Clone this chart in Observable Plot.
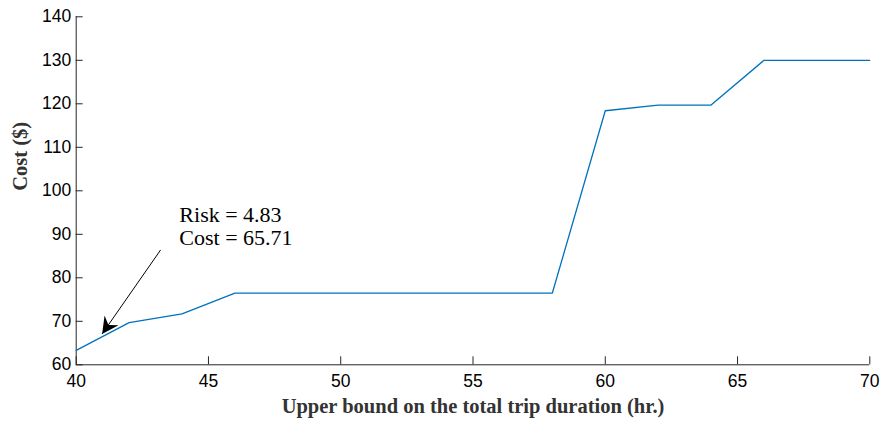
<!DOCTYPE html>
<html><head><meta charset="utf-8">
<script src="https://cdn.jsdelivr.net/npm/d3@7"></script>
<script src="https://cdn.jsdelivr.net/npm/@observablehq/plot@0.6"></script>
<style>body{margin:0;background:#fff}</style>
</head><body><div id="chart"></div>
<script>
const durations = [40,42,44,46,48,50,52,54,56,58,60,62,64,66,68,70];
const costs = [63.3,69.7,71.7,76.5,76.5,76.5,76.5,76.5,76.5,76.5,118.4,119.7,119.7,130,130,130];
const xTicks = [40,45,50,55,60,65,70];
const yTicks = [60,70,80,90,100,110,120,130,140];
const xDomain = [40,70];
const yDomain = [60,140];
const annotationLines = ["Risk = 4.83","Cost = 65.71"];
const annotationX = [43.9, 43.9];
const annotationY = [92.9, 87.6];
const arrowFrom = [43.19, 86.4];
const arrowTo = [40.98, 67.1];
const xLabel = "Upper bound on the total trip duration (hr.)";
const yLabel = "Cost ($)";

const data = durations.map((d, i) => ({duration: d, cost: costs[i]}));
const arrows = [{x1: arrowFrom[0], y1: arrowFrom[1], x2: arrowTo[0], y2: arrowTo[1]}];
const axisColor = "#262626";
const sans = "Liberation Sans, Arial, sans-serif";
const serif = "Liberation Serif, Times New Roman, serif";

const chart = Plot.plot({
  width: 884,
  height: 426,
  marginLeft: 75.7,
  marginRight: 14.7,
  marginTop: 16.3,
  marginBottom: 61.7,
  style: {background: "#fff", overflow: "visible"},
  x: {domain: xDomain, label: null},
  y: {domain: yDomain, label: null},
  marks: [
    Plot.ruleX([xDomain[0]], {stroke: axisColor, strokeWidth: 1}),
    Plot.ruleY([yDomain[0]], {stroke: axisColor, strokeWidth: 1}),
    Plot.axisY(yTicks, {tickSize: 7, dx: 7, text: null, label: null, stroke: axisColor}),
    Plot.axisX(xTicks, {tickSize: 8, dy: -8, text: null, label: null, stroke: axisColor}),
    Plot.axisY(yTicks, {tickSize: 0, tickPadding: 5, label: null, fontSize: 17.5, fontFamily: sans, fill: "#000"}),
    Plot.axisX(xTicks, {tickSize: 0, tickPadding: 10, label: null, fontSize: 17.5, fontFamily: sans, fill: "#000"}),
    Plot.line(data, {x: "duration", y: "cost", stroke: "#0072BD", strokeWidth: 1.3}),
    Plot.link(arrows, {x1: "x1", y1: "y1", x2: "x2", y2: "y2", stroke: "#000", strokeWidth: 1}),
    Plot.text(annotationLines, {x: (d, i) => annotationX[i], y: (d, i) => annotationY[i], text: d => d,
      textAnchor: "start", lineAnchor: "bottom", fontFamily: serif, fontSize: 22, fill: "#000"}),
    Plot.text([xLabel], {frameAnchor: "bottom", dy: 47.7, lineAnchor: "bottom", fontFamily: serif,
      fontWeight: "bold", fontSize: 20.5, fill: "#333"}),
    Plot.text([yLabel], {frameAnchor: "left", rotate: -90, dx: -56, lineAnchor: "middle", fontFamily: serif,
      fontWeight: "bold", fontSize: 20.5, fill: "#333"})
  ]
});

// filled MATLAB-style arrowhead
const ns = "http://www.w3.org/2000/svg";
const defs = document.createElementNS(ns, "defs");
const marker = document.createElementNS(ns, "marker");
marker.setAttribute("id", "mhead");
marker.setAttribute("markerUnits", "userSpaceOnUse");
marker.setAttribute("viewBox", "-20 -10 22 20");
marker.setAttribute("markerWidth", "22");
marker.setAttribute("markerHeight", "20");
marker.setAttribute("refX", "0");
marker.setAttribute("refY", "0");
marker.setAttribute("orient", "auto");
const head = document.createElementNS(ns, "path");
head.setAttribute("d", "M0,0 L-16.5,-8.5 L-11,0 L-16.5,8.5 Z");
head.setAttribute("fill", "#000");
marker.appendChild(head);
defs.appendChild(marker);
chart.insertBefore(defs, chart.firstChild);
const linkPath = chart.querySelector('[aria-label="link"] path');
if (linkPath) linkPath.setAttribute("marker-end", "url(#mhead)");

document.getElementById("chart").appendChild(chart);
</script>
</body></html>
